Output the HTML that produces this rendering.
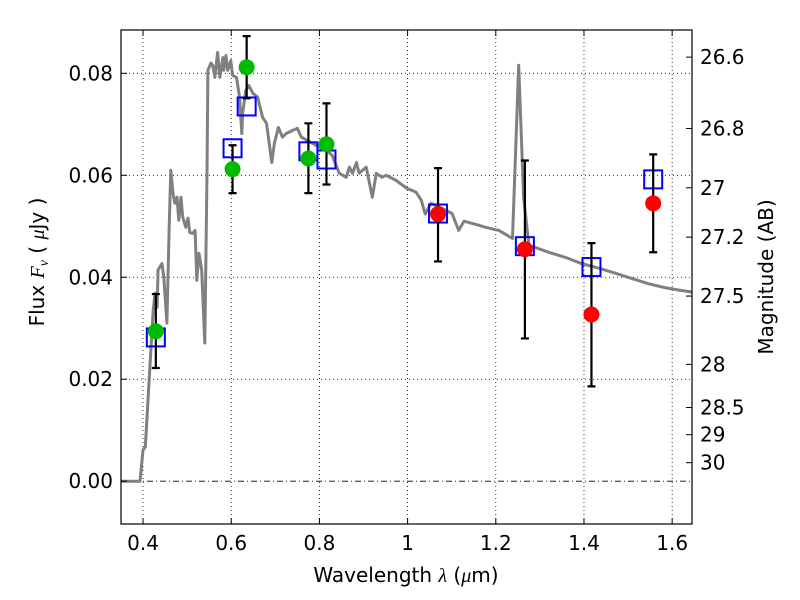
<!DOCTYPE html>
<html><head><meta charset="utf-8">
<style>
html,body{margin:0;padding:0;background:#fff;}
svg{display:block;font-family:"DejaVu Sans","Liberation Sans",sans-serif;}
</style></head>
<body>
<svg id="chart" width="800" height="600" viewBox="0 0 800 600"></svg>
<script>
const modelWave=[0.350,0.393,0.400,0.405,0.416,0.423,0.427,0.432,0.434,0.443,0.447,0.454,0.459,0.463,0.468,0.472,0.477,0.481,0.486,0.490,0.497,0.502,0.506,0.513,0.518,0.522,0.527,0.533,0.540,0.545,0.547,0.554,0.558,0.563,0.569,0.574,0.581,0.583,0.588,0.592,0.599,0.603,0.612,0.619,0.624,0.626,0.633,0.640,0.649,0.660,0.671,0.680,0.692,0.698,0.707,0.716,0.725,0.739,0.750,0.759,0.771,0.784,0.800,0.816,0.829,0.845,0.861,0.868,0.875,0.884,0.890,0.906,0.920,0.929,0.942,0.951,0.974,0.997,1.019,1.031,1.040,1.053,1.078,1.101,1.116,1.128,1.162,1.177,1.207,1.238,1.252,1.263,1.275,1.320,1.358,1.394,1.433,1.471,1.507,1.544,1.582,1.614,1.645];
const modelFlux=[0,0,0.0061,0.0067,0.0231,0.0335,0.0369,0.0341,0.0414,0.0427,0.0400,0.0310,0.0492,0.0610,0.0565,0.0545,0.0557,0.0512,0.0557,0.0518,0.0498,0.0516,0.0488,0.0486,0.0492,0.0394,0.0447,0.0414,0.0271,0.0604,0.0806,0.0820,0.0816,0.0792,0.0841,0.0792,0.0831,0.0806,0.0835,0.0806,0.0825,0.0796,0.0792,0.0753,0.0682,0.0722,0.0767,0.0776,0.0761,0.0753,0.0714,0.0702,0.0625,0.0663,0.0694,0.0675,0.0682,0.0688,0.0692,0.0675,0.0669,0.0663,0.0655,0.0649,0.0639,0.0604,0.0596,0.0616,0.0604,0.0625,0.0604,0.0616,0.0557,0.0604,0.0596,0.0600,0.0590,0.0575,0.0567,0.0551,0.0524,0.0545,0.0535,0.0525,0.0492,0.0510,0.0502,0.0498,0.0492,0.0476,0.0816,0.0557,0.0463,0.0449,0.0439,0.0427,0.0418,0.0408,0.0398,0.0388,0.0380,0.0375,0.0371];
const greenWave=[0.429,0.603,0.635,0.775,0.816];
const greenFlux=[0.0294,0.0612,0.0812,0.0633,0.0661];
const greenHi=[0.0367,0.0659,0.0873,0.0702,0.0741];
const greenLo=[0.0222,0.0565,0.0751,0.0565,0.0582];
const redWave=[1.069,1.266,1.417,1.557];
const redFlux=[0.0524,0.0455,0.0327,0.0545];
const redHi=[0.0614,0.0629,0.0467,0.0641];
const redLo=[0.0431,0.0280,0.0186,0.0449];
const squareWave=[0.429,0.603,0.635,0.775,0.816,1.069,1.266,1.417,1.557];
const squareFlux=[0.0282,0.0653,0.0735,0.0647,0.0631,0.0525,0.0461,0.0420,0.0592];
const xTicks=[0.4,0.6,0.8,1.0,1.2,1.4,1.6];
const xTickLabels=["0.4","0.6","0.8","1","1.2","1.4","1.6"];
const yTicks=[0,0.02,0.04,0.06,0.08];
const yTickLabels=["0.00","0.02","0.04","0.06","0.08"];
const magTicks=[26.6,26.8,27,27.2,27.5,28,28.5,29,30];
const magTickLabels=["26.6","26.8","27","27.2","27.5","28","28.5","29","30"];

const L=121,R=692,T=30,B=524;
const X0=0.35,X1=1.645,Y0=-0.0084,Y1=0.0885;
const sx=v=>L+(v-X0)/(X1-X0)*(R-L);
const sy=v=>B-(v-Y0)/(Y1-Y0)*(B-T);
const NS="http://www.w3.org/2000/svg";
const svg=document.getElementById('chart');
function mk(tag,attrs,parent){const e=document.createElementNS(NS,tag);for(const k in attrs)e.setAttribute(k,attrs[k]);(parent||svg).appendChild(e);return e;}

xTicks.forEach((t,i)=>{
  const g=mk('line',{x1:sx(t),x2:sx(t),y1:T,y2:B,stroke:'#000','stroke-width':0.8,'stroke-dasharray':'1,3'});
  
  
});
yTicks.forEach((t,i)=>{
  const g=mk('line',{x1:L,x2:R,y1:sy(t),y2:sy(t),stroke:'#000','stroke-width':0.8,'stroke-dasharray':t===0?'6,3,1,3':'1,3'});
  
  
});

let d='';
modelWave.forEach((w,i)=>{d+=(i?'L':'M')+sx(w).toFixed(1)+','+sy(modelFlux[i]).toFixed(1);});
const cp=mk('clipPath',{id:'clip'});mk('rect',{x:L,y:T,width:R-L,height:B-T},cp);
const model=mk('path',{d:d,fill:'none',stroke:'#808080','stroke-width':3,'stroke-linejoin':'round','clip-path':'url(#clip)'});



squareWave.forEach((w,i)=>{
  const s=mk('rect',{x:sx(w)-9,y:sy(squareFlux[i])-9,width:18,height:18,fill:'none',stroke:'#0000ff','stroke-width':2});
  
  
});

function errPts(wave,flux,hi,lo,color,name){
  wave.forEach((w,i)=>{
    const x=sx(w);
    const eb=mk('path',{d:`M${x},${sy(hi[i])}L${x},${sy(lo[i])}M${x-4},${sy(hi[i])}L${x+4},${sy(hi[i])}M${x-4},${sy(lo[i])}L${x+4},${sy(lo[i])}`,stroke:'#000','stroke-width':2.2,fill:'none'});
    
    
    const c=mk('circle',{cx:x,cy:sy(flux[i]),r:8,fill:color});
    
    
  });
}
errPts(greenWave,greenFlux,greenHi,greenLo,'#00bb00','green-data-point');
errPts(redWave,redFlux,redHi,redLo,'#ff0000','red-data-point');

const fr=mk('rect',{x:L,y:T,width:R-L,height:B-T,fill:'none',stroke:'#000','stroke-width':1.2});



xTicks.forEach((t,i)=>{
  mk('line',{x1:sx(t),x2:sx(t),y1:B,y2:B-6,stroke:'#000'});
  mk('line',{x1:sx(t),x2:sx(t),y1:T,y2:T+6,stroke:'#000'});
  const tx=mk('text',{x:sx(t),y:B+26,'font-size':20,'text-anchor':'middle'});
  tx.textContent=xTickLabels[i];
  
  
});
yTicks.forEach((t,i)=>{
  mk('line',{x1:L,x2:L+6,y1:sy(t),y2:sy(t),stroke:'#000'});
  const tx=mk('text',{x:L-8,y:sy(t)+7,'font-size':20,'text-anchor':'end'});
  tx.textContent=yTickLabels[i];
  
  
});
magTicks.forEach((m,i)=>{
  const f=Math.pow(10,(23.9-m)/2.5);
  const y=sy(f);
  mk('line',{x1:R,x2:R-6,y1:y,y2:y,stroke:'#000'});
  const tx=mk('text',{x:R+8,y:y+7,'font-size':20,'text-anchor':'start'});
  tx.textContent=magTickLabels[i];
  
  
});
</script>
<svg style="position:absolute;left:0;top:0" width="800" height="600">
<text x="406" y="582" font-size="20" text-anchor="middle" font-family="DejaVu Sans, Liberation Sans, sans-serif">Wavelength  <tspan font-style="italic" font-family="Liberation Serif, serif">λ</tspan> (<tspan font-style="italic" font-family="Liberation Serif, serif">μ</tspan>m)</text>
<text transform="translate(44,262) rotate(-90)" font-size="20" text-anchor="middle" font-family="DejaVu Sans, Liberation Sans, sans-serif">Flux  <tspan font-style="italic" font-family="Liberation Serif, serif">F<tspan font-size="14" dy="4">ν</tspan></tspan><tspan dy="-4">  (  </tspan><tspan font-style="italic" font-family="Liberation Serif, serif">μ</tspan>Jy )</text>
<text transform="translate(773,277) rotate(-90)" font-size="20" text-anchor="middle" font-family="DejaVu Sans, Liberation Sans, sans-serif">Magnitude (AB)</text>
</svg>
</body></html>
